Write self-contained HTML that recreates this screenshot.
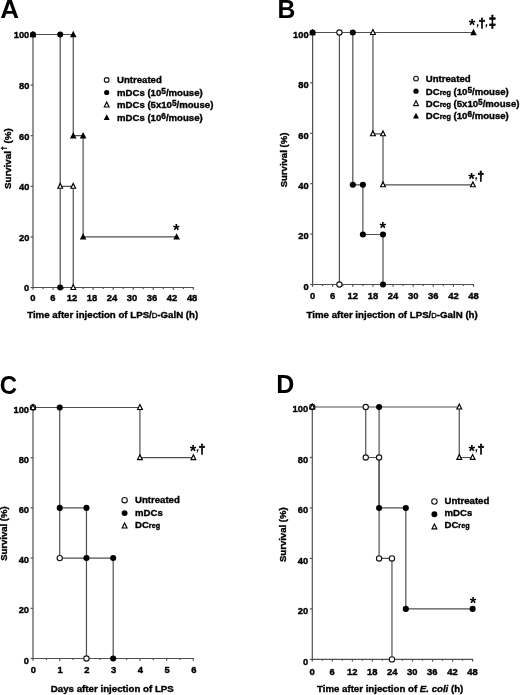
<!DOCTYPE html>
<html><head><meta charset="utf-8"><title>Figure</title>
<style>html,body{margin:0;padding:0;background:#fff}svg{display:block;will-change:transform;filter:blur(.35px)}.t{font:bold 9.6px "Liberation Sans",Arial,Helvetica,sans-serif;fill:#000;stroke:#000;stroke-width:.36px}.k{stroke-width:.4px}.kx{font-size:9.7px}.ky{font-size:9.9px}.b{font-family:"Liberation Sans",Arial,Helvetica,sans-serif;font-weight:bold;fill:#000}.d{stroke:#000;stroke-width:.7px}.ax{fill:none;stroke:#505050;stroke-width:1.2}.ln{fill:none;stroke:#505050;stroke-width:1.2}</style></head><body>
<svg width="520" height="695" viewBox="0 0 520 695">
<rect width="520" height="695" fill="#fff"/>
<!-- panel A -->
<text transform="translate(0.2,18) scale(1.04,1)" font-size="25" class="b">A</text>
<path d="M33.00 34.50V287.50H193.82" class="ax"/>
<path d="M30.60 287.50H33.00" class="ax"/>
<text transform="translate(29.30,291.30) scale(0.94,1)" text-anchor="end" class="t k ky">0</text>
<path d="M30.60 236.90H33.00" class="ax"/>
<text transform="translate(29.30,240.70) scale(0.94,1)" text-anchor="end" class="t k ky">20</text>
<path d="M30.60 186.30H33.00" class="ax"/>
<text transform="translate(29.30,190.10) scale(0.94,1)" text-anchor="end" class="t k ky">40</text>
<path d="M30.60 135.70H33.00" class="ax"/>
<text transform="translate(29.30,139.50) scale(0.94,1)" text-anchor="end" class="t k ky">60</text>
<path d="M30.60 85.10H33.00" class="ax"/>
<text transform="translate(29.30,88.90) scale(0.94,1)" text-anchor="end" class="t k ky">80</text>
<path d="M30.60 34.50H33.00" class="ax"/>
<text transform="translate(29.30,38.30) scale(0.94,1)" text-anchor="end" class="t k ky">100</text>
<path d="M33.00 287.50v2.2" class="ax"/>
<text transform="translate(32.90,301.20) scale(0.97,1)" text-anchor="middle" class="t k kx">0</text>
<path d="M53.04 287.50v2.2" class="ax"/>
<text transform="translate(52.94,301.20) scale(0.97,1)" text-anchor="middle" class="t k kx">6</text>
<path d="M73.08 287.50v2.2" class="ax"/>
<text transform="translate(71.88,301.20) scale(0.97,1)" text-anchor="middle" class="t k kx">12</text>
<path d="M93.12 287.50v2.2" class="ax"/>
<text transform="translate(91.92,301.20) scale(0.97,1)" text-anchor="middle" class="t k kx">18</text>
<path d="M113.16 287.50v2.2" class="ax"/>
<text transform="translate(111.96,301.20) scale(0.97,1)" text-anchor="middle" class="t k kx">24</text>
<path d="M133.20 287.50v2.2" class="ax"/>
<text transform="translate(132.00,301.20) scale(0.97,1)" text-anchor="middle" class="t k kx">30</text>
<path d="M153.24 287.50v2.2" class="ax"/>
<text transform="translate(152.04,301.20) scale(0.97,1)" text-anchor="middle" class="t k kx">36</text>
<path d="M173.28 287.50v2.2" class="ax"/>
<text transform="translate(172.08,301.20) scale(0.97,1)" text-anchor="middle" class="t k kx">42</text>
<path d="M193.32 287.50v2.2" class="ax"/>
<text transform="translate(192.12,301.20) scale(0.97,1)" text-anchor="middle" class="t k kx">48</text>
<path d="M43.02 287.50v1.4" class="ax"/>
<path d="M63.06 287.50v1.4" class="ax"/>
<path d="M83.10 287.50v1.4" class="ax"/>
<path d="M103.14 287.50v1.4" class="ax"/>
<path d="M123.18 287.50v1.4" class="ax"/>
<path d="M143.22 287.50v1.4" class="ax"/>
<path d="M163.26 287.50v1.4" class="ax"/>
<path d="M183.30 287.50v1.4" class="ax"/>
<text x="27.2" y="317.7" class="t" textLength="171" lengthAdjust="spacingAndGlyphs">Time after injection of LPS/<tspan font-size="7.6" font-weight="normal">D</tspan>-GalN (h)</text>
<text transform="translate(11.0,158.7) rotate(-90)" text-anchor="middle" class="t"><tspan font-size="9.75">Survival</tspan><tspan font-size="7.4" dy="-4.7" dx="0.8">†</tspan><tspan dy="4.7" font-size="9.75"> (%)</tspan></text>
<path d="M33.00 34.50 L60.22 34.50 L60.22 287.50" class="ln"/>
<path d="M60.22 186.30 L73.25 186.30 L73.25 287.50" class="ln"/>
<path d="M60.22 34.50 L73.25 34.50 L73.25 135.70 L83.10 135.70 L83.10 236.90 L176.62 236.90" class="ln"/>
<circle cx="33.00" cy="34.50" r="3.05" fill="#000"/>
<circle cx="60.22" cy="34.50" r="3.05" fill="#000"/>
<circle cx="60.22" cy="287.50" r="3.05" fill="#000"/>
<polygon points="60.22,183.40 62.62,188.25 57.82,188.25" fill="#fff" stroke="#000" stroke-width="1.15"/>
<polygon points="73.25,183.40 75.65,188.25 70.85,188.25" fill="#fff" stroke="#000" stroke-width="1.15"/>
<polygon points="73.25,284.60 75.65,289.45 70.85,289.45" fill="#fff" stroke="#000" stroke-width="1.15"/>
<polygon points="33.00,30.80 36.30,37.20 29.70,37.20" fill="#000"/>
<polygon points="73.25,30.80 76.55,37.20 69.95,37.20" fill="#000"/>
<polygon points="73.25,132.00 76.55,138.40 69.95,138.40" fill="#000"/>
<polygon points="83.10,132.00 86.40,138.40 79.80,138.40" fill="#000"/>
<polygon points="83.10,233.20 86.40,239.60 79.80,239.60" fill="#000"/>
<polygon points="176.62,233.20 179.92,239.60 173.32,239.60" fill="#000"/>
<text x="173.10" y="236.00" font-size="17" class="b">*</text>
<circle cx="106.70" cy="80.00" r="2.38" fill="#fff" stroke="#111" stroke-width="1.1"/>
<text x="117" y="83.4" class="t">Untreated</text>
<circle cx="106.70" cy="92.50" r="2.59" fill="#000"/>
<text x="117" y="95.9" class="t">mDCs (10<tspan font-size="8.3" dy="-2.1">5</tspan><tspan dy="2.1">/mouse)</tspan></text>
<polygon points="106.70,102.10 109.10,106.95 104.30,106.95" fill="#fff" stroke="#000" stroke-width="1.15"/>
<text x="117" y="108.4" class="t">mDCs (5x10<tspan font-size="8.3" dy="-2.1">5</tspan><tspan dy="2.1">/mouse)</tspan></text>
<polygon points="106.70,114.17 109.67,119.93 103.73,119.93" fill="#000"/>
<text x="117" y="120.9" class="t">mDCs (10<tspan font-size="8.3" dy="-2.1">6</tspan><tspan dy="2.1">/mouse)</tspan></text>
<!-- panel B -->
<text transform="translate(277.6,18.1) scale(0.97,1)" font-size="25.5" class="b">B</text>
<path d="M312.60 32.50V284.50H474.00" class="ax"/>
<path d="M310.20 284.50H312.60" class="ax"/>
<text transform="translate(308.60,289.80) scale(0.94,1)" text-anchor="end" class="t k ky">0</text>
<path d="M310.20 234.10H312.60" class="ax"/>
<text transform="translate(308.60,239.40) scale(0.94,1)" text-anchor="end" class="t k ky">20</text>
<path d="M310.20 183.70H312.60" class="ax"/>
<text transform="translate(308.60,189.00) scale(0.94,1)" text-anchor="end" class="t k ky">40</text>
<path d="M310.20 133.30H312.60" class="ax"/>
<text transform="translate(308.60,138.60) scale(0.94,1)" text-anchor="end" class="t k ky">60</text>
<path d="M310.20 82.90H312.60" class="ax"/>
<text transform="translate(308.60,88.20) scale(0.94,1)" text-anchor="end" class="t k ky">80</text>
<path d="M310.20 32.50H312.60" class="ax"/>
<text transform="translate(308.60,37.80) scale(0.94,1)" text-anchor="end" class="t k ky">100</text>
<path d="M312.60 284.50v2.2" class="ax"/>
<text transform="translate(312.60,299.30) scale(0.97,1)" text-anchor="middle" class="t k kx">0</text>
<path d="M332.71 284.50v2.2" class="ax"/>
<text transform="translate(332.71,299.30) scale(0.97,1)" text-anchor="middle" class="t k kx">6</text>
<path d="M352.82 284.50v2.2" class="ax"/>
<text transform="translate(352.82,299.30) scale(0.97,1)" text-anchor="middle" class="t k kx">12</text>
<path d="M372.94 284.50v2.2" class="ax"/>
<text transform="translate(372.94,299.30) scale(0.97,1)" text-anchor="middle" class="t k kx">18</text>
<path d="M393.05 284.50v2.2" class="ax"/>
<text transform="translate(393.05,299.30) scale(0.97,1)" text-anchor="middle" class="t k kx">24</text>
<path d="M413.16 284.50v2.2" class="ax"/>
<text transform="translate(413.16,299.30) scale(0.97,1)" text-anchor="middle" class="t k kx">30</text>
<path d="M433.27 284.50v2.2" class="ax"/>
<text transform="translate(433.27,299.30) scale(0.97,1)" text-anchor="middle" class="t k kx">36</text>
<path d="M453.38 284.50v2.2" class="ax"/>
<text transform="translate(453.38,299.30) scale(0.97,1)" text-anchor="middle" class="t k kx">42</text>
<path d="M473.50 284.50v2.2" class="ax"/>
<text transform="translate(473.50,299.30) scale(0.97,1)" text-anchor="middle" class="t k kx">48</text>
<path d="M322.66 284.50v1.4" class="ax"/>
<path d="M342.77 284.50v1.4" class="ax"/>
<path d="M362.88 284.50v1.4" class="ax"/>
<path d="M382.99 284.50v1.4" class="ax"/>
<path d="M403.10 284.50v1.4" class="ax"/>
<path d="M423.22 284.50v1.4" class="ax"/>
<path d="M443.33 284.50v1.4" class="ax"/>
<path d="M463.44 284.50v1.4" class="ax"/>
<text x="306.5" y="317.8" class="t" textLength="171.3" lengthAdjust="spacingAndGlyphs">Time after injection of LPS/<tspan font-size="7.6" font-weight="normal">D</tspan>-GalN (h)</text>
<text transform="translate(286.8,160) rotate(-90)" text-anchor="middle" class="t" textLength="54.7" lengthAdjust="spacingAndGlyphs">Survival (%)</text>
<path d="M312.60 32.50 L473.50 32.50" class="ln"/>
<path d="M339.42 32.50 L339.42 284.50" class="ln"/>
<path d="M352.82 32.50 L352.82 184.80 L362.88 184.80 L362.88 234.50 L382.99 234.50 L382.99 284.50" class="ln"/>
<path d="M372.94 32.50 L372.94 133.80 L382.99 133.80 L382.99 184.80 L472.93 184.80" class="ln"/>
<circle cx="312.60" cy="32.50" r="3.05" fill="#000"/>
<circle cx="352.82" cy="32.50" r="3.05" fill="#000"/>
<circle cx="352.82" cy="184.80" r="3.05" fill="#000"/>
<circle cx="362.88" cy="184.80" r="3.05" fill="#000"/>
<circle cx="362.88" cy="234.50" r="3.05" fill="#000"/>
<circle cx="382.99" cy="234.50" r="3.05" fill="#000"/>
<circle cx="382.99" cy="284.50" r="3.05" fill="#000"/>
<circle cx="339.42" cy="32.50" r="2.65" fill="#fff" stroke="#111" stroke-width="1.1"/>
<circle cx="339.42" cy="284.50" r="2.65" fill="#fff" stroke="#111" stroke-width="1.1"/>
<polygon points="372.94,29.60 375.34,34.45 370.54,34.45" fill="#fff" stroke="#000" stroke-width="1.15"/>
<polygon points="372.94,130.90 375.34,135.75 370.54,135.75" fill="#fff" stroke="#000" stroke-width="1.15"/>
<polygon points="382.99,130.90 385.39,135.75 380.59,135.75" fill="#fff" stroke="#000" stroke-width="1.15"/>
<polygon points="382.99,181.90 385.39,186.75 380.59,186.75" fill="#fff" stroke="#000" stroke-width="1.15"/>
<polygon points="472.93,181.90 475.33,186.75 470.53,186.75" fill="#fff" stroke="#000" stroke-width="1.15"/>
<polygon points="312.60,28.80 315.90,35.20 309.30,35.20" fill="#000"/>
<polygon points="473.50,28.80 476.80,35.20 470.20,35.20" fill="#000"/>
<text x="468.70" y="30.90" font-size="17" class="b">*</text>
<text x="476.50" y="26.30" font-size="11" font-style="italic" class="b">,</text>
<text transform="translate(478.70,26.70) scale(0.95,1)" font-size="12.4" class="b d">†</text>
<text x="485.20" y="26.30" font-size="11" font-style="italic" class="b">,</text>
<text transform="translate(488.70,27.00) scale(0.8,1)" font-size="16.5" class="b d">‡</text>
<text x="468.30" y="185.10" font-size="17" class="b">*</text>
<text x="475.00" y="179.40" font-size="11" font-style="italic" class="b">,</text>
<text transform="translate(477.40,180.30) scale(0.95,1)" font-size="12.4" class="b d">†</text>
<text x="379.50" y="233.90" font-size="17" class="b">*</text>
<circle cx="416.00" cy="78.60" r="2.38" fill="#fff" stroke="#111" stroke-width="1.1"/>
<text x="425.8" y="82" class="t">Untreated</text>
<circle cx="416.00" cy="91.20" r="2.59" fill="#000"/>
<text x="425.8" y="94.6" class="t">DC<tspan font-size="7.2">reg</tspan> (10<tspan font-size="8.3" dy="-2.1">5</tspan><tspan dy="2.1">/mouse)</tspan></text>
<polygon points="416.00,100.70 418.40,105.55 413.60,105.55" fill="#fff" stroke="#000" stroke-width="1.15"/>
<text x="425.8" y="107.0" class="t">DC<tspan font-size="7.2">reg</tspan> (5x10<tspan font-size="8.3" dy="-2.1">5</tspan><tspan dy="2.1">/mouse)</tspan></text>
<polygon points="416.00,112.67 418.97,118.43 413.03,118.43" fill="#000"/>
<text x="425.8" y="119.4" class="t">DC<tspan font-size="7.2">reg</tspan> (10<tspan font-size="8.3" dy="-2.1">6</tspan><tspan dy="2.1">/mouse)</tspan></text>
<!-- panel C -->
<text transform="translate(-0.3,393.5) scale(0.9,1)" font-size="26.6" class="b">C</text>
<path d="M33.00 407.50V658.50H193.88" class="ax"/>
<path d="M30.60 658.50H33.00" class="ax"/>
<text transform="translate(29.00,663.60) scale(0.94,1)" text-anchor="end" class="t k ky">0</text>
<path d="M30.60 608.30H33.00" class="ax"/>
<text transform="translate(29.00,613.40) scale(0.94,1)" text-anchor="end" class="t k ky">20</text>
<path d="M30.60 558.10H33.00" class="ax"/>
<text transform="translate(29.00,563.20) scale(0.94,1)" text-anchor="end" class="t k ky">40</text>
<path d="M30.60 507.90H33.00" class="ax"/>
<text transform="translate(29.00,513.00) scale(0.94,1)" text-anchor="end" class="t k ky">60</text>
<path d="M30.60 457.70H33.00" class="ax"/>
<text transform="translate(29.00,462.80) scale(0.94,1)" text-anchor="end" class="t k ky">80</text>
<path d="M30.60 407.50H33.00" class="ax"/>
<text transform="translate(29.00,412.60) scale(0.94,1)" text-anchor="end" class="t k ky">100</text>
<path d="M33.00 658.50v2.2" class="ax"/>
<text transform="translate(33.40,672.60) scale(0.97,1)" text-anchor="middle" class="t k kx">0</text>
<path d="M59.73 658.50v2.2" class="ax"/>
<text transform="translate(60.13,672.60) scale(0.97,1)" text-anchor="middle" class="t k kx">1</text>
<path d="M86.46 658.50v2.2" class="ax"/>
<text transform="translate(86.86,672.60) scale(0.97,1)" text-anchor="middle" class="t k kx">2</text>
<path d="M113.19 658.50v2.2" class="ax"/>
<text transform="translate(113.59,672.60) scale(0.97,1)" text-anchor="middle" class="t k kx">3</text>
<path d="M139.92 658.50v2.2" class="ax"/>
<text transform="translate(140.32,672.60) scale(0.97,1)" text-anchor="middle" class="t k kx">4</text>
<path d="M166.65 658.50v2.2" class="ax"/>
<text transform="translate(167.05,672.60) scale(0.97,1)" text-anchor="middle" class="t k kx">5</text>
<path d="M193.38 658.50v2.2" class="ax"/>
<text transform="translate(193.78,672.60) scale(0.97,1)" text-anchor="middle" class="t k kx">6</text>
<path d="M46.37 658.50v1.4" class="ax"/>
<path d="M73.09 658.50v1.4" class="ax"/>
<path d="M99.83 658.50v1.4" class="ax"/>
<path d="M126.56 658.50v1.4" class="ax"/>
<path d="M153.28 658.50v1.4" class="ax"/>
<path d="M180.02 658.50v1.4" class="ax"/>
<text x="50.8" y="691.5" class="t" textLength="123" lengthAdjust="spacingAndGlyphs">Days after injection of LPS</text>
<text transform="translate(6.9,533.6) rotate(-90)" text-anchor="middle" class="t" textLength="54.5" lengthAdjust="spacingAndGlyphs">Survival (%)</text>
<path d="M33.00 407.50 L139.92 407.50 L139.92 457.70 L193.38 457.70" class="ln"/>
<path d="M59.73 407.50 L59.73 558.10 L86.46 558.10 L86.46 658.50" class="ln"/>
<path d="M59.73 507.90 L86.46 507.90 L86.46 558.10 L113.19 558.10 L113.19 658.50" class="ln"/>
<polygon points="139.92,404.60 142.32,409.45 137.52,409.45" fill="#fff" stroke="#000" stroke-width="1.15"/>
<polygon points="139.92,454.80 142.32,459.65 137.52,459.65" fill="#fff" stroke="#000" stroke-width="1.15"/>
<polygon points="193.38,454.80 195.78,459.65 190.98,459.65" fill="#fff" stroke="#000" stroke-width="1.15"/>
<circle cx="33.00" cy="407.50" r="2.65" fill="#fff" stroke="#111" stroke-width="1.1"/>
<circle cx="59.73" cy="558.10" r="2.65" fill="#fff" stroke="#111" stroke-width="1.1"/>
<circle cx="86.46" cy="658.50" r="2.65" fill="#fff" stroke="#111" stroke-width="1.1"/>
<polygon points="33.00,404.60 35.40,409.45 30.60,409.45" fill="none" stroke="#000" stroke-width="1.15"/>
<circle cx="59.73" cy="407.50" r="3.05" fill="#000"/>
<circle cx="59.73" cy="507.90" r="3.05" fill="#000"/>
<circle cx="86.46" cy="507.90" r="3.05" fill="#000"/>
<circle cx="86.46" cy="558.10" r="3.05" fill="#000"/>
<circle cx="113.19" cy="558.10" r="3.05" fill="#000"/>
<circle cx="113.19" cy="658.50" r="3.05" fill="#000"/>
<text x="189.70" y="457.10" font-size="17" class="b">*</text>
<text x="196.40" y="451.40" font-size="11" font-style="italic" class="b">,</text>
<text transform="translate(198.80,453.30) scale(0.95,1)" font-size="12.4" class="b d">†</text>
<circle cx="124.60" cy="500.20" r="2.70" fill="#fff" stroke="#111" stroke-width="1.1"/>
<text x="135" y="503.3" class="t">Untreated</text>
<circle cx="124.60" cy="513.10" r="2.96" fill="#000"/>
<text x="135" y="516.2" class="t">mDCs</text>
<polygon points="124.60,523.10 127.00,527.95 122.20,527.95" fill="#fff" stroke="#000" stroke-width="1.15"/>
<text x="135" y="527.7" class="t">DC<tspan font-size="7.2">reg</tspan></text>
<!-- panel D -->
<text transform="translate(276.3,393.1) scale(1,1)" font-size="25" class="b">D</text>
<path d="M312.30 407.00V659.40H473.12" class="ax"/>
<path d="M309.90 659.40H312.30" class="ax"/>
<text transform="translate(308.10,664.70) scale(0.94,1)" text-anchor="end" class="t k ky">0</text>
<path d="M309.90 608.92H312.30" class="ax"/>
<text transform="translate(308.10,614.22) scale(0.94,1)" text-anchor="end" class="t k ky">20</text>
<path d="M309.90 558.44H312.30" class="ax"/>
<text transform="translate(308.10,563.74) scale(0.94,1)" text-anchor="end" class="t k ky">40</text>
<path d="M309.90 507.96H312.30" class="ax"/>
<text transform="translate(308.10,513.26) scale(0.94,1)" text-anchor="end" class="t k ky">60</text>
<path d="M309.90 457.48H312.30" class="ax"/>
<text transform="translate(308.10,462.78) scale(0.94,1)" text-anchor="end" class="t k ky">80</text>
<path d="M309.90 407.00H312.30" class="ax"/>
<text transform="translate(308.10,412.30) scale(0.94,1)" text-anchor="end" class="t k ky">100</text>
<path d="M312.30 659.40v2.2" class="ax"/>
<text transform="translate(312.10,674.60) scale(0.97,1)" text-anchor="middle" class="t k kx">0</text>
<path d="M332.34 659.40v2.2" class="ax"/>
<text transform="translate(332.14,674.60) scale(0.97,1)" text-anchor="middle" class="t k kx">6</text>
<path d="M352.38 659.40v2.2" class="ax"/>
<text transform="translate(352.18,674.60) scale(0.97,1)" text-anchor="middle" class="t k kx">12</text>
<path d="M372.42 659.40v2.2" class="ax"/>
<text transform="translate(372.22,674.60) scale(0.97,1)" text-anchor="middle" class="t k kx">18</text>
<path d="M392.46 659.40v2.2" class="ax"/>
<text transform="translate(392.26,674.60) scale(0.97,1)" text-anchor="middle" class="t k kx">24</text>
<path d="M412.50 659.40v2.2" class="ax"/>
<text transform="translate(412.30,674.60) scale(0.97,1)" text-anchor="middle" class="t k kx">30</text>
<path d="M432.54 659.40v2.2" class="ax"/>
<text transform="translate(432.34,674.60) scale(0.97,1)" text-anchor="middle" class="t k kx">36</text>
<path d="M452.58 659.40v2.2" class="ax"/>
<text transform="translate(452.38,674.60) scale(0.97,1)" text-anchor="middle" class="t k kx">42</text>
<path d="M472.62 659.40v2.2" class="ax"/>
<text transform="translate(472.42,674.60) scale(0.97,1)" text-anchor="middle" class="t k kx">48</text>
<path d="M322.32 659.40v1.4" class="ax"/>
<path d="M342.36 659.40v1.4" class="ax"/>
<path d="M362.40 659.40v1.4" class="ax"/>
<path d="M382.44 659.40v1.4" class="ax"/>
<path d="M402.48 659.40v1.4" class="ax"/>
<path d="M422.52 659.40v1.4" class="ax"/>
<path d="M442.56 659.40v1.4" class="ax"/>
<path d="M462.60 659.40v1.4" class="ax"/>
<text x="317.0" y="692.0" class="t" textLength="146.3" lengthAdjust="spacingAndGlyphs">Time after injection of <tspan font-style="italic">E. coli</tspan> (h)</text>
<text transform="translate(286.4,534.7) rotate(-90)" text-anchor="middle" class="t" textLength="54.7" lengthAdjust="spacingAndGlyphs">Survival (%)</text>
<path d="M312.30 407.00 L459.26 407.00 L459.26 457.48 L472.62 457.48" class="ln"/>
<path d="M365.74 407.00 L365.74 457.48 L379.10 457.48 L379.10 558.44 L391.96 558.44 L391.96 659.40" class="ln"/>
<path d="M379.10 407.00 L379.10 507.96 L405.82 507.96 L405.82 608.92 L472.62 608.92" class="ln"/>
<polygon points="459.26,404.10 461.66,408.95 456.86,408.95" fill="#fff" stroke="#000" stroke-width="1.15"/>
<polygon points="459.26,454.58 461.66,459.43 456.86,459.43" fill="#fff" stroke="#000" stroke-width="1.15"/>
<polygon points="472.62,454.58 475.02,459.43 470.22,459.43" fill="#fff" stroke="#000" stroke-width="1.15"/>
<circle cx="312.30" cy="407.00" r="2.65" fill="#fff" stroke="#111" stroke-width="1.1"/>
<circle cx="365.74" cy="407.00" r="2.65" fill="#fff" stroke="#111" stroke-width="1.1"/>
<circle cx="365.74" cy="457.48" r="2.65" fill="#fff" stroke="#111" stroke-width="1.1"/>
<circle cx="379.10" cy="457.48" r="2.65" fill="#fff" stroke="#111" stroke-width="1.1"/>
<circle cx="379.10" cy="558.44" r="2.65" fill="#fff" stroke="#111" stroke-width="1.1"/>
<circle cx="391.96" cy="558.44" r="2.65" fill="#fff" stroke="#111" stroke-width="1.1"/>
<circle cx="391.96" cy="659.40" r="2.65" fill="#fff" stroke="#111" stroke-width="1.1"/>
<polygon points="312.30,404.10 314.70,408.95 309.90,408.95" fill="none" stroke="#000" stroke-width="1.15"/>
<circle cx="379.10" cy="407.00" r="3.05" fill="#000"/>
<circle cx="379.10" cy="507.96" r="3.05" fill="#000"/>
<circle cx="405.82" cy="507.96" r="3.05" fill="#000"/>
<circle cx="405.82" cy="608.92" r="3.05" fill="#000"/>
<circle cx="472.62" cy="608.92" r="3.05" fill="#000"/>
<text x="468.60" y="456.60" font-size="17" class="b">*</text>
<text x="475.30" y="450.90" font-size="11" font-style="italic" class="b">,</text>
<text transform="translate(477.70,452.80) scale(0.95,1)" font-size="12.4" class="b d">†</text>
<text x="469.80" y="608.70" font-size="17" class="b">*</text>
<circle cx="434.40" cy="501.50" r="2.70" fill="#fff" stroke="#111" stroke-width="1.1"/>
<text x="444.5" y="504.1" class="t">Untreated</text>
<circle cx="434.40" cy="514.20" r="2.96" fill="#000"/>
<text x="444.5" y="516.3" class="t">mDCs</text>
<polygon points="434.40,524.00 436.80,528.85 432.00,528.85" fill="#fff" stroke="#000" stroke-width="1.15"/>
<text x="444.5" y="528.4" class="t">DC<tspan font-size="7.2">reg</tspan></text>
</svg></body></html>
